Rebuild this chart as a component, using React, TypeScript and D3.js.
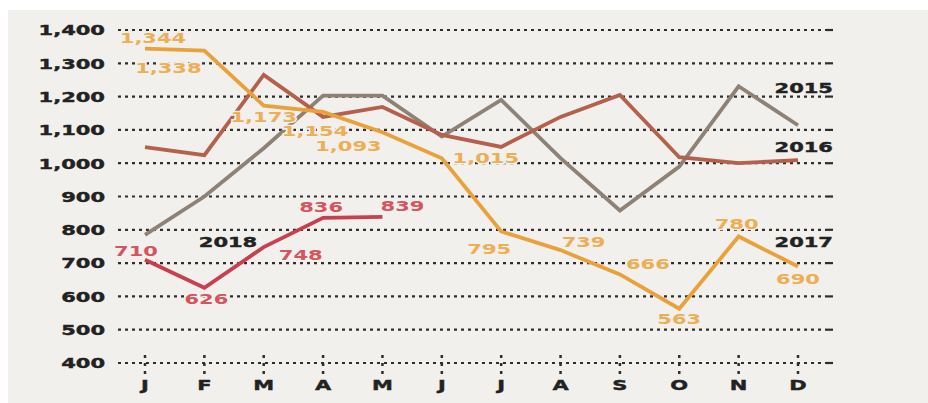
import React from "react";
import * as d3 from "d3";

const months = ["J", "F", "M", "A", "M", "J", "J", "A", "S", "O", "N", "D"];
const yTicks = [400, 500, 600, 700, 800, 900, 1000, 1100, 1200, 1300, 1400];

const s2015 = [785, 900, 1045, 1203, 1203, 1080, 1190, 1015, 858, 990, 1231, 1114];
const s2016 = [1048, 1024, 1265, 1139, 1169, 1085, 1049, 1139, 1205, 1018, 1000, 1009];
const s2017 = [1344, 1338, 1173, 1154, 1093, 1015, 795, 739, 666, 563, 780, 690];
const s2018 = [710, 626, 748, 836, 839];

// label offsets from each point (dx, dy), layout only
const off2017 = [[8, -11], [-36, 17], [0, 11], [-8, 19], [-34, 13], [44, -1], [-12, 17], [23, -8], [28, -11], [0, 10], [-2, -13], [0, 12]];
const off2018 = [[-9, -9], [2, 11], [37, 8], [-2, -11], [20, -11]];

const W = 928, H = 403;
const BG = "#f1f0ec";
const FONT = "'DejaVu Sans', sans-serif";

const T = ({ x, y, text, fill, anchor = "middle", halo = false }) => (
  <text
    transform={`translate(${x},${y + 5.3}) scale(1.45,1)`}
    textAnchor={anchor}
    fontFamily={FONT}
    fontWeight="bold"
    fontSize={14.5}
    fill={fill}
    stroke={halo ? BG : fill}
    strokeWidth={halo ? 2.5 : 0.4}
    paintOrder="stroke"
  >
    {text}
  </text>
);

const App = () => {
  const x = d3.scalePoint().domain(d3.range(12)).range([145, 798]);
  const y = d3.scaleLinear().domain([400, 1400]).range([363, 30]);
  const line = d3.line().x((d, i) => x(i)).y((d) => y(d));
  const fmt = d3.format(",");

  const series = [
    { data: s2015, color: "#8e8176" },
    { data: s2016, color: "#b4604c" },
    { data: s2017, color: "#e9a23b" },
    { data: s2018, color: "#c8404f" },
  ];

  return (
    <svg width={W} height={H} style={{ position: "absolute", left: 0, top: 0 }}>
      <rect width={W} height={H} fill="#fff" />
      <rect x={8} y={10} width={W - 8} height={H - 10} fill={BG} />

      {yTicks.map((t) => (
        <g key={t}>
          <line x1={118} x2={826} y1={y(t)} y2={y(t)} stroke="#2e2e2e" strokeWidth={2.2} strokeDasharray="3,4" />
          <line x1={826} x2={833} y1={y(t)} y2={y(t)} stroke="#2e2e2e" strokeWidth={2.2} />
          <T x={105} y={y(t)} text={fmt(t)} fill="#222" anchor="end" />
        </g>
      ))}

      {months.map((m, i) => (
        <g key={i}>
          <line x1={x(i)} x2={x(i)} y1={355} y2={374} stroke="#2e2e2e" strokeWidth={2.5} strokeDasharray="3,5" />
          <T x={x(i)} y={385} text={m} fill="#222" />
        </g>
      ))}

      {series.map((s, k) => (
        <path key={k} d={line(s.data)} fill="none" stroke={s.color} strokeWidth={3.8} strokeLinejoin="miter" />
      ))}

      {s2017.map((v, i) => (
        <T key={"a" + i} x={x(i) + off2017[i][0]} y={y(v) + off2017[i][1]} text={fmt(v)} fill="#eeae55" halo />
      ))}
      {s2018.map((v, i) => (
        <T key={"b" + i} x={x(i) + off2018[i][0]} y={y(v) + off2018[i][1]} text={fmt(v)} fill="#d4555f" halo />
      ))}

      <T x={833} y={88} text="2015" fill="#222" anchor="end" />
      <T x={833} y={147} text="2016" fill="#222" anchor="end" />
      <T x={833} y={242} text="2017" fill="#222" anchor="end" />
      <T x={228} y={242} text="2018" fill="#222" />
    </svg>
  );
};

export default App;
